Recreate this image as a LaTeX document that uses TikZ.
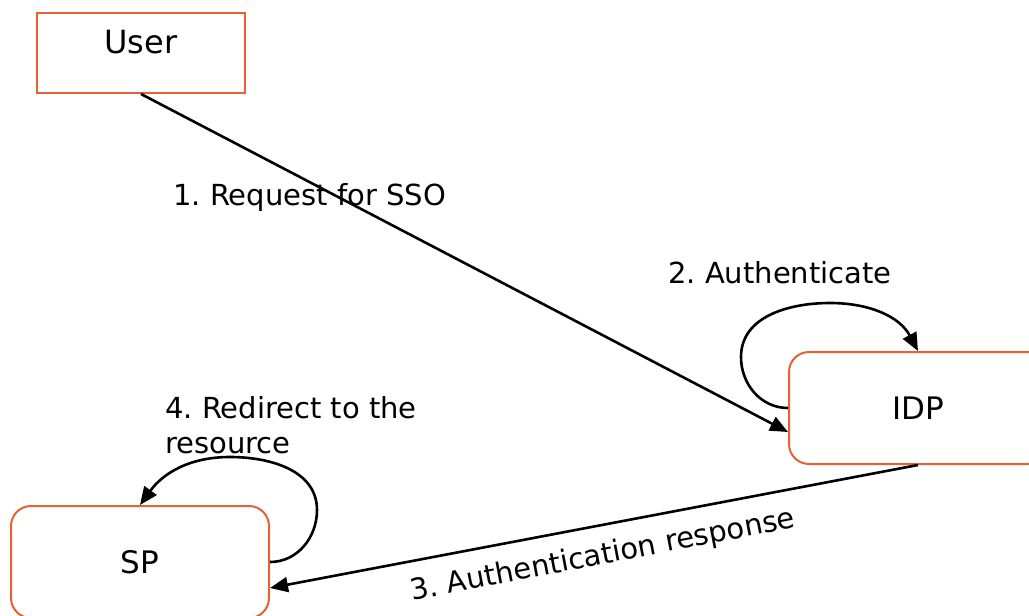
\documentclass[tikz,border=0pt]{standalone}
\usepackage{fontspec}
\setmainfont{DejaVu Sans}
\frenchspacing
\usetikzlibrary{arrows.meta,calc}
\definecolor{boxorange}{RGB}{230,97,52}
\tikzset{
  entity/.style={draw=boxorange, line width=2pt, fill=white, inner sep=0pt},
  roundbox/.style={entity, rounded corners=20pt, minimum width=258pt, minimum height=112pt},
  flow/.style={draw=black, line width=2.6pt, -{Triangle[length=18pt,width=15pt]}},
  caption/.style={font=\fontsize{29}{35}\selectfont, inner sep=0pt},
  boxtext/.style={font=\fontsize{31}{37}\selectfont, inner sep=0pt}
}
\begin{document}
\begin{tikzpicture}[x=1pt,y=1pt]
  \useasboundingbox (0,0) rectangle (1029,-616);

  % participants
  \node[entity, minimum width=208pt, minimum height=80pt] (user) at (141,-53) {};
  \node[boxtext, font=\fontsize{32}{38}\selectfont] (usertext) at (141,-42) {User};
  \node[roundbox, boxtext] (idp) at (918,-408) {IDP};
  \node[roundbox, boxtext] (sp) at (140,-562) {SP};

  % 1. request from the user to the identity provider
  \draw[flow] (user.south) -- ($(idp.west)+(0,-24)$);
  \node[caption, anchor=base west] (l1) at (173,-205) {1. Request for SSO};

  % 2. the identity provider authenticates the user
  \draw[flow] (idp.west) to[out=180,in=-90] (741,-357)
    to[out=90,in=180] (830,-303) to[out=0,in=118] (idp.north);
  \node[caption, anchor=base west] (l2) at (668,-283) {2. Authenticate};

  % 3. authentication response back to the service provider
  \draw[flow] (idp.south) -- ($(sp.east)+(0,-26)$);
  \node[caption, rotate=10.8] (l3) at (603,-556) {3. Authentication response};

  % 4. service provider redirects to the resource
  \draw[flow] (sp.east) to[out=0,in=-90] (317,-510)
    to[out=90,in=0] (230,-457) to[out=180,in=54] (sp.north);
  \node[caption, anchor=base west, align=left] (l4) at (165,-453) {4. Redirect to the\\resource};
\end{tikzpicture}
\end{document}
